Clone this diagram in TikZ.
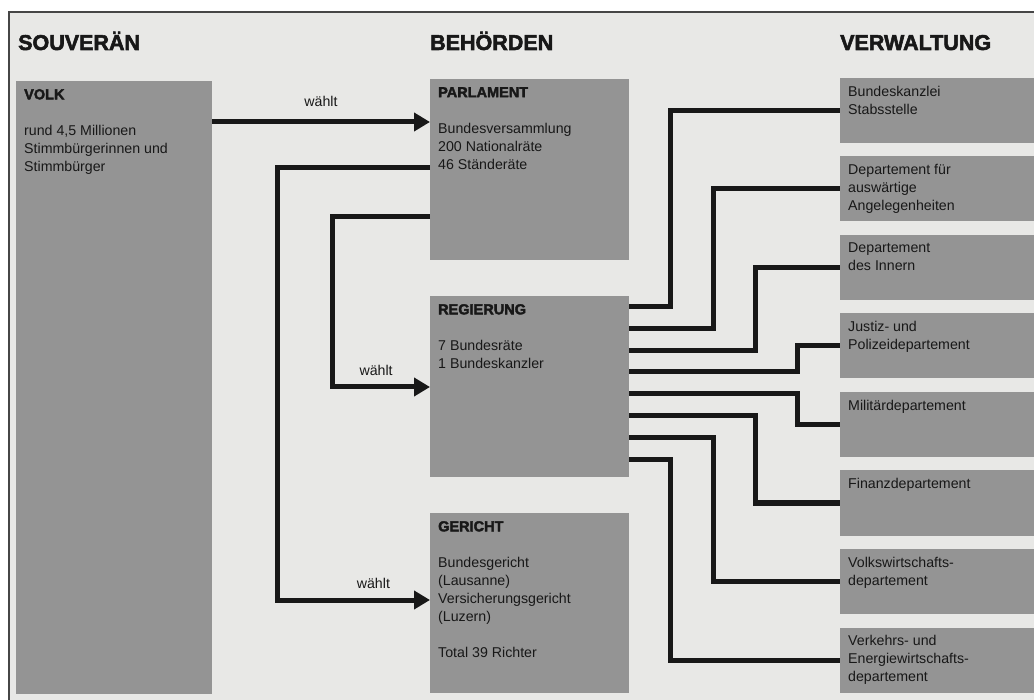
\documentclass[tikz,border=0pt]{standalone}
\usepackage{fontspec}
\setmainfont{Liberation Sans}
\newfontfamily\kopffont{Liberation Sans}[BoldFeatures={FakeBold=2.5}]
\usetikzlibrary{arrows.meta,positioning}
\definecolor{papier}{RGB}{232,232,230}
\definecolor{kasten}{RGB}{148,148,148}
\definecolor{tinte}{RGB}{24,24,24}
\definecolor{rahmen}{RGB}{70,70,70}
\newcommand\titel[1]{{\kopffont\bfseries\fontsize{14.5}{18}\selectfont #1}}

\begin{document}
\begin{tikzpicture}[x=1pt,y=-1pt,>={Triangle[length=16pt,width=18pt]}]
  \tikzstyle{box}=[rectangle,fill=kasten,inner sep=0pt,outer sep=0pt]
  \tikzstyle{inhalt}=[anchor=north west,inner xsep=8pt,inner ysep=8pt,align=left,
              text=tinte,font=\fontsize{14.2}{18}\selectfont]
  \tikzstyle{kopf}=[anchor=base west,inner sep=0pt,text=tinte,
              font=\kopffont\bfseries\fontsize{21.5}{24}\selectfont]
  \tikzstyle{leitung}=[line width=5pt,draw=tinte]
  \tikzstyle{pfeil}=[leitung,->]
  \tikzstyle{lbl}=[text=tinte,font=\fontsize{14.2}{18}\selectfont]
  \useasboundingbox (0,0) rectangle (1034,700);
  \fill[papier] (9,12) rectangle (1034,700);
  \draw[rahmen,line width=1.5pt] (1034,12) -- (9,12) -- (9,700);

  \node[kopf] (h1) at (18,50) {SOUVERÄN};
  \node[kopf] (h2) at (430,50) {BEHÖRDEN};
  \node[kopf] (h3) at (840,50) {VERWALTUNG};

  \node[box,minimum width=196pt,minimum height=613pt,anchor=north west] (volk) at (16,81) {};
  \node[box,minimum width=199pt,minimum height=181pt,anchor=north west] (parl) at (430,79) {};
  \node[box,minimum width=199pt,minimum height=181pt,below=36pt of parl] (regi) {};
  \node[box,minimum width=199pt,minimum height=180pt,below=36pt of regi] (geri) {};

  \node[box,minimum width=194pt,minimum height=65pt,anchor=north west] (d1) at (840,78) {};
  \foreach \i [count=\j from 1] in {2,...,8}
    \node[box,minimum width=194pt,minimum height=65pt,below=13.5pt of d\j] (d\i) {};

  \node[inhalt] (volk-t) at (volk.north west)
    {\titel{VOLK}\\[18pt]rund 4,5 Millionen\\Stimmbürgerinnen und\\Stimmbürger};
  \node[inhalt] (parl-t) at (parl.north west)
    {\titel{PARLAMENT}\\[18pt]Bundesversammlung\\200 Nationalräte\\46 Ständeräte};
  \node[inhalt] (regi-t) at (regi.north west)
    {\titel{REGIERUNG}\\[18pt]7 Bundesräte\\1 Bundeskanzler};
  \node[inhalt] (geri-t) at (geri.north west)
    {\titel{GERICHT}\\[18pt]Bundesgericht\\(Lausanne)\\Versicherungsgericht\\(Luzern)\\[18pt]Total 39 Richter};

  \foreach \i/\txt in {1/{Bundeskanzlei\\Stabsstelle},
                       2/{Departement für\\auswärtige\\Angelegenheiten},
                       3/{Departement\\des Innern},
                       4/{Justiz- und\\Polizeidepartement},
                       5/{Militärdepartement},
                       6/{Finanzdepartement},
                       7/{Volkswirtschafts-\\departement},
                       8/{Verkehrs- und\\Energiewirtschafts-\\departement}}
    \node[inhalt] (d\i-t) at (d\i.north west) {\txt};

  \draw[pfeil] ([yshift=-41pt]volk.north east) -- node[lbl,yshift=21pt] (w1) {wählt}
    ([yshift=-43pt]parl.north west);
  \draw[pfeil] ([yshift=-138pt]parl.north west) -| ([xshift=-98pt,yshift=-91pt]regi.north west)
    -- node[lbl,yshift=17pt,pos=0.45] (w2) {wählt} ([yshift=-91pt]regi.north west);
  \draw[pfeil] ([yshift=-89pt]parl.north west) -| ([xshift=-153pt,yshift=-87pt]geri.north west)
    -- node[lbl,yshift=17pt,pos=0.63] (w3) {wählt} ([yshift=-87pt]geri.north west);

  \foreach \i/\dy/\dx in {1/11/170,2/33/127,3/55/85,4/76/43,5/98/43,6/120/85,7/142/127,8/164/170}
    \draw[leitung] ([yshift=-\dy pt]regi.north east) -| ([xshift=-\dx pt]d\i.west) -- (d\i.west);
\end{tikzpicture}
\end{document}
